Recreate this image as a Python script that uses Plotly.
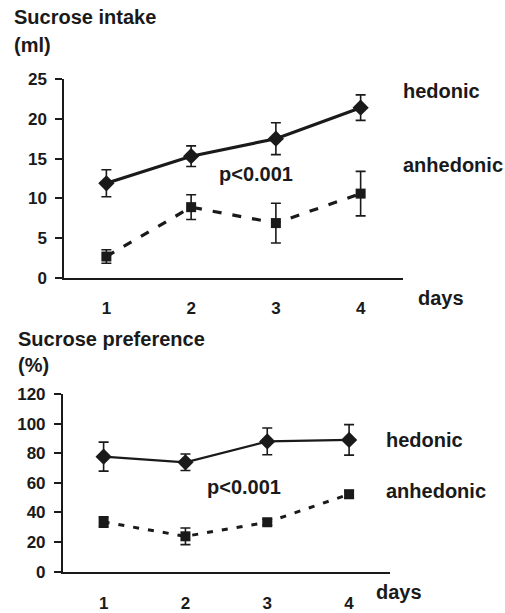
import plotly.graph_objects as go

W, H = 505, 613

days = [1, 2, 3, 4]
day_labels = ["1", "2", "3", "4"]

intake_hedonic = [11.9, 15.3, 17.5, 21.4]
intake_hedonic_err = [1.7, 1.3, 2.0, 1.6]
intake_anhedonic = [2.7, 8.9, 6.9, 10.6]
intake_anhedonic_err = [0.85, 1.55, 2.5, 2.8]

pref_hedonic = [77.7, 73.9, 88.0, 89.0]
pref_hedonic_err = [9.8, 5.6, 9.0, 10.3]
pref_anhedonic = [33.6, 23.9, 33.4, 52.3]
pref_anhedonic_err = [3.5, 5.6, 2.0, 2.5]

intake_ticks = [0, 5, 10, 15, 20, 25]
pref_ticks = [0, 20, 40, 60, 80, 100, 120]

INK = "#1a1a1a"
FONT = "Liberation Sans"


def px(x):
    return x / W


def py(y):
    return 1 - y / H


fig = go.Figure()


def add_series(y, err, xa, ya, symbol, size, width, dash):
    fig.add_trace(go.Scatter(
        x=days, y=y, xaxis=xa, yaxis=ya, mode="lines+markers",
        line=dict(color=INK, width=width, dash=dash),
        marker=dict(symbol=symbol, size=size, color=INK),
        error_y=dict(type="data", array=err, visible=True, color=INK,
                     thickness=1.6, width=5),
        showlegend=False, cliponaxis=False,
    ))


add_series(intake_hedonic, intake_hedonic_err, "x", "y", "diamond", 12.5, 3.2, "solid")
add_series(intake_anhedonic, intake_anhedonic_err, "x", "y", "square", 10, 3.2, "9px,11px")
add_series(pref_hedonic, pref_hedonic_err, "x2", "y2", "diamond", 12.5, 2.2, "solid")
add_series(pref_anhedonic, pref_anhedonic_err, "x2", "y2", "square", 10, 3.0, "6px,9px")

tickfont = dict(family=FONT, size=17, color=INK, weight="bold")

xcommon = dict(range=[0.5, 4.5], tickvals=days, ticktext=day_labels, showline=True,
               linecolor=INK, linewidth=1.5, ticks="", showgrid=False, zeroline=False,
               tickfont=tickfont, automargin=False, fixedrange=True)
ycommon = dict(showline=True, linecolor=INK, linewidth=1.5, ticks="outside", ticklen=7,
               tickwidth=1.5, tickcolor=INK, showgrid=False, zeroline=False,
               tickfont=tickfont, automargin=False, ticklabelstandoff=5)

fig.update_layout(
    width=W, height=H,
    margin=dict(l=0, r=0, t=0, b=0),
    paper_bgcolor="white", plot_bgcolor="white",
    xaxis=dict(xcommon, domain=[px(64), px(403)], anchor="y", ticklabelstandoff=14),
    yaxis=dict(ycommon, domain=[py(278), py(79)], range=[0, 25], tickvals=intake_ticks, anchor="x"),
    xaxis2=dict(xcommon, domain=[px(62.7), px(390)], anchor="y2", ticklabelstandoff=15),
    yaxis2=dict(ycommon, domain=[py(571.7), py(394)], range=[0, 120], tickvals=pref_ticks, anchor="x2"),
)

labels = [
    ("Sucrose intake", 12, 17, 20),
    ("(ml)", 12, 45, 20),
    ("hedonic", 401, 91, 20),
    ("anhedonic", 401, 165, 20),
    ("p<0.001", 217, 174, 20),
    ("days", 416, 298, 20),
    ("Sucrose preference", 16, 339, 20),
    ("(%)", 16, 365, 20),
    ("hedonic", 384, 440, 20),
    ("anhedonic", 384, 491, 20),
    ("p<0.001", 205, 487, 20),
    ("days", 374, 592, 20),
]
for text, x, y, s in labels:
    fig.add_annotation(text=text, xref="paper", yref="paper", x=px(x), y=py(y),
                       xanchor="left", yanchor="middle", showarrow=False,
                       font=dict(family=FONT, size=s, color=INK, weight="bold"))

fig.write_html("out.html", config={"displayModeBar": False},
               post_script="document.body.style.margin='0px';document.body.style.overflow='hidden';")
